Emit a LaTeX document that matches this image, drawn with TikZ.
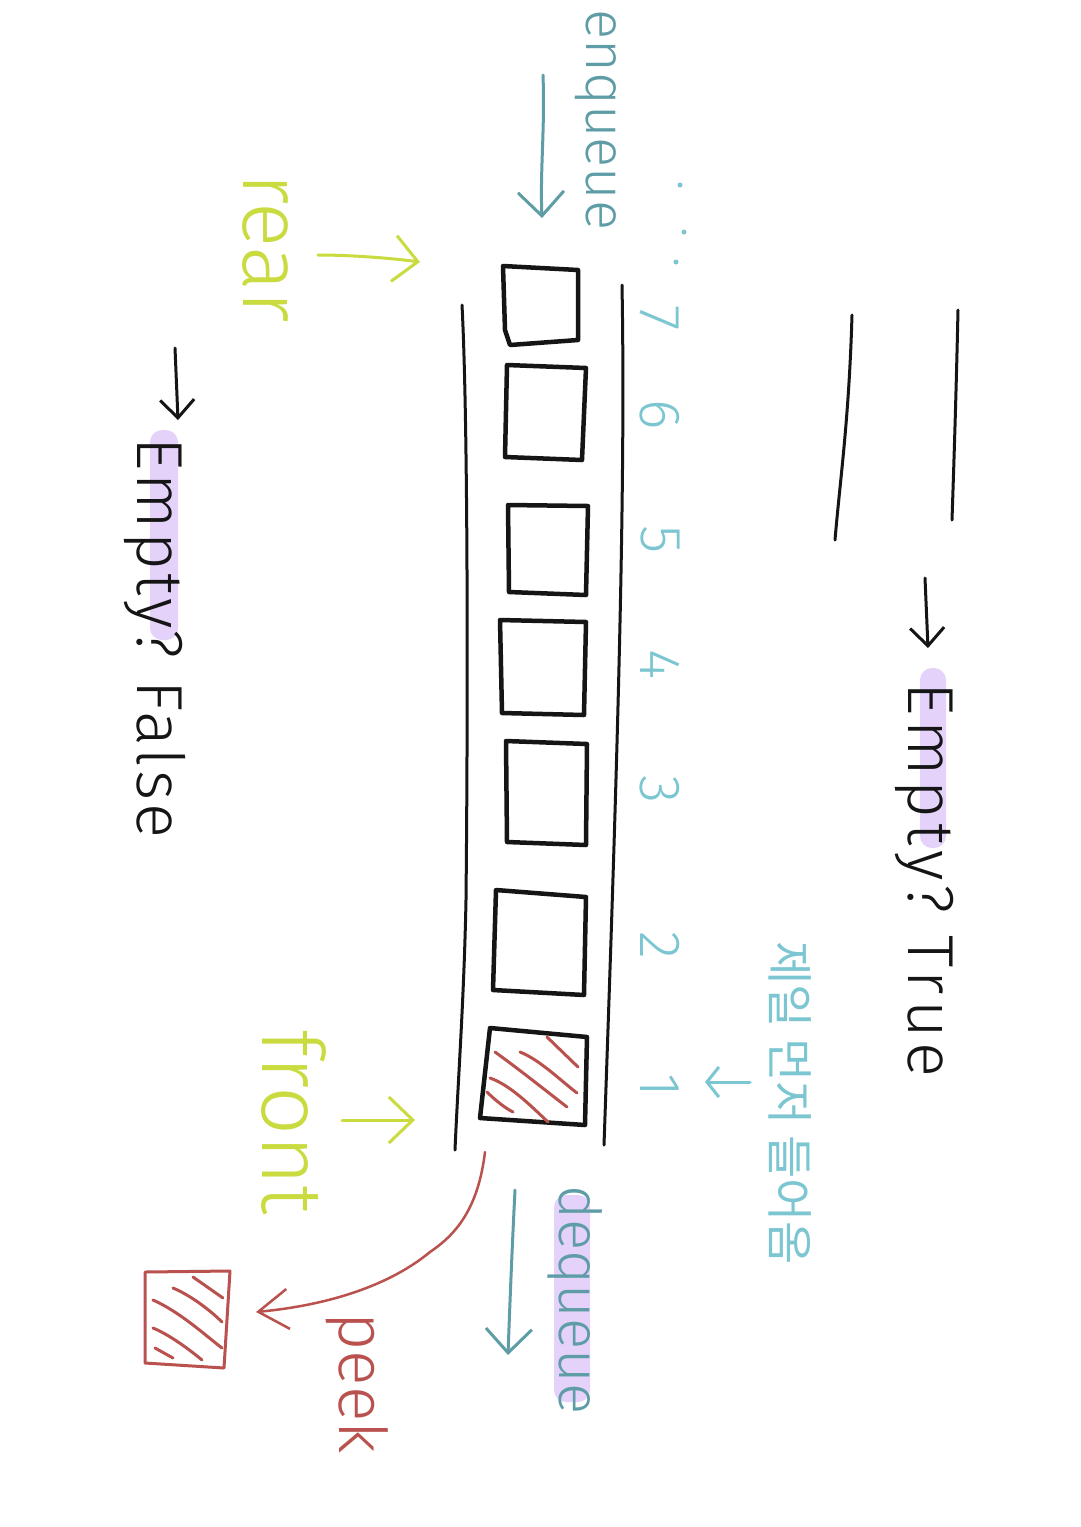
\documentclass[tikz,border=0pt]{standalone}
\usepackage{fontspec}
\setmainfont{Fira Sans}[UprightFont={* Light}]
\newfontfamily\korfont{Noto Sans CJK KR}
\usetikzlibrary{arrows.meta}
\definecolor{ink}{HTML}{151515}
\definecolor{sky}{HTML}{7CC6D2}
\definecolor{teal}{HTML}{5E9CA6}
\definecolor{lime}{HTML}{C9DB3E}
\definecolor{brick}{HTML}{B9524E}
\definecolor{hl}{HTML}{E4D2FA}
\begin{document}
\begin{tikzpicture}[x=1pt,y=-1pt,line cap=round,line join=round,
  tube/.style={draw=ink,line width=3pt},
  cell/.style={draw=ink,line width=4.5pt},
  hatch/.style={draw=brick,line width=3pt},
  lbl/.style={rotate=-90,inner sep=0pt},
  barb/.style={-{Straight Barb[length=24pt,width=46pt]}},
  fs/.style={font=\fontsize{#1pt}{#1pt}\selectfont},
  spaced/.style={font={\addfontfeature{LetterSpace=#1}\fontsize{65pt}{65pt}\selectfont}}]
\useasboundingbox[fill=white] (0,0) rectangle (1080,1527);

% tube
\draw[tube] (462,305) .. controls (468,420) and (468,700) .. (466,900) .. controls (464,1000) and (458,1080) .. (455,1150);
\draw[tube] (622,285) .. controls (626,500) and (616,800) .. (604,1145);

% empty tube
\draw[tube] (958,310) .. controls (956,400) and (954,460) .. (952,520);
\draw[tube] (852,315) .. controls (849,420) and (840,480) .. (835,540);

% cells
\draw[cell] (503,266) -- (578,270) -- (578,340) -- (510,345) -- (505,330) -- cycle;
\draw[cell] (507,365) -- (586,368) -- (582,460) -- (505,457) -- cycle;
\draw[cell] (508,505) -- (588,506) -- (586,595) -- (509,592) -- cycle;
\draw[cell] (500,620) -- (586,622) -- (584,715) -- (502,713) -- cycle;
\draw[cell] (506,741) -- (587,744) -- (586,845) -- (507,842) -- cycle;
\draw[cell] (496,890) -- (586,897) -- (584,995) -- (493,990) -- cycle;
\draw[cell] (490,1028) -- (587,1037) -- (585,1125) -- (480,1118) -- cycle;
\draw[hatch] (547,1037) -- (578,1067);
\draw[hatch] (520,1052) .. controls (540,1060) and (560,1080) .. (577,1093);
\draw[hatch] (495,1052) .. controls (520,1070) and (545,1090) .. (567,1107);
\draw[hatch] (490,1078) .. controls (510,1085) and (530,1105) .. (548,1122);
\draw[hatch] (487,1092) .. controls (495,1100) and (505,1108) .. (513,1112);

% numbers
\foreach \n/\y in {7/318,6/415,5/540,4/665,3/790,2/945,1/1085}
  \node[lbl,fs=58,text=sky] (num\n) at (660,\y) {\n};
\fill[sky] (680,185) circle (2.5pt) (684,232) circle (2.5pt) (676,262) circle (2.5pt);

% enqueue
\node[lbl,fs=56,text=teal] (enq) at (596,120) {enqueue};
\coordinate (enqA) at (543,75);
\coordinate (enqB) at (542,218);
\draw[draw=teal,line width=3pt,barb] (enqA) .. controls (545,130) and (540,170) .. (enqB);

% dequeue
\fill[hl,rounded corners=12pt] (554,1195) rectangle (590,1402);
\node[lbl,fs=58,text=teal] (deq) at (575,1300) {dequeue};
\coordinate (deqA) at (515,1190);
\coordinate (deqB) at (508,1355);
\draw[draw=teal,line width=3pt,barb] (deqA) .. controls (512,1250) and (510,1300) .. (deqB);

% korean note
\node[lbl,text=sky,font=\korfont\fontsize{47pt}{47pt}\selectfont] (kor) at (790,1103) {제일 먼저 들어옴};
\coordinate (korA) at (750,1082);
\coordinate (korB) at (705,1082);
\draw[draw=sky,line width=3pt,-{Straight Barb[length=12pt,width=30pt]}] (korA) -- (korB);

% rear
\node[lbl,fs=84,text=lime] (rear) at (265,248) {rear};
\coordinate (rearA) at (318,255);
\coordinate (rearB) at (420,262);
\draw[draw=lime,line width=3pt,barb] (rearA) .. controls (350,255) and (390,258) .. (rearB);

% front
\node[lbl,fs=86,text=lime] (front) at (294,1122) {front};
\coordinate (frontA) at (342,1120);
\coordinate (frontB) at (415,1120);
\draw[draw=lime,line width=3pt,barb] (frontA) -- (frontB);

% empty? true
\fill[hl,rounded corners=12pt] (920,668) rectangle (946,848);
\node[lbl,spaced=8,text=ink] (etrue) at (924,880) {Empty?\,\,True};
\coordinate (etA) at (925,578);
\coordinate (etB) at (928,648);
\draw[draw=ink,line width=3pt,-{Straight Barb[length=18pt,width=34pt]}] (etA) -- (etB);

% empty? false
\fill[hl,rounded corners=12pt] (150,430) rectangle (178,640);
\node[lbl,spaced=5,text=ink] (efalse) at (155,638) {Empty?\,\,False};
\coordinate (efA) at (175,348);
\coordinate (efB) at (178,420);
\draw[draw=ink,line width=3pt,-{Straight Barb[length=18pt,width=34pt]}] (efA) -- (efB);

% peek
\draw[draw=brick,line width=3pt] (145,1272) -- (230,1271) -- (224,1368) -- (145,1363) -- cycle;
\draw[hatch] (193,1277) -- (223,1298);
\draw[hatch] (173,1288) .. controls (190,1295) and (210,1310) .. (222,1322);
\draw[hatch] (153,1300) .. controls (180,1312) and (205,1335) .. (222,1348);
\draw[hatch] (153,1328) .. controls (170,1335) and (190,1350) .. (202,1360);
\draw[hatch] (155,1348) -- (173,1358);
\coordinate (peekA) at (485,1152);
\coordinate (peekB) at (256,1312);
\draw[draw=brick,line width=2.5pt,-{Straight Barb[length=30pt,width=40pt]}] (peekA) .. controls (478,1210) and (455,1235) .. (430,1252) .. controls (390,1285) and (330,1305) .. (peekB);
\node[lbl,fs=66,text=brick] (peek) at (357,1383) {peek};
\end{tikzpicture}
\end{document}
